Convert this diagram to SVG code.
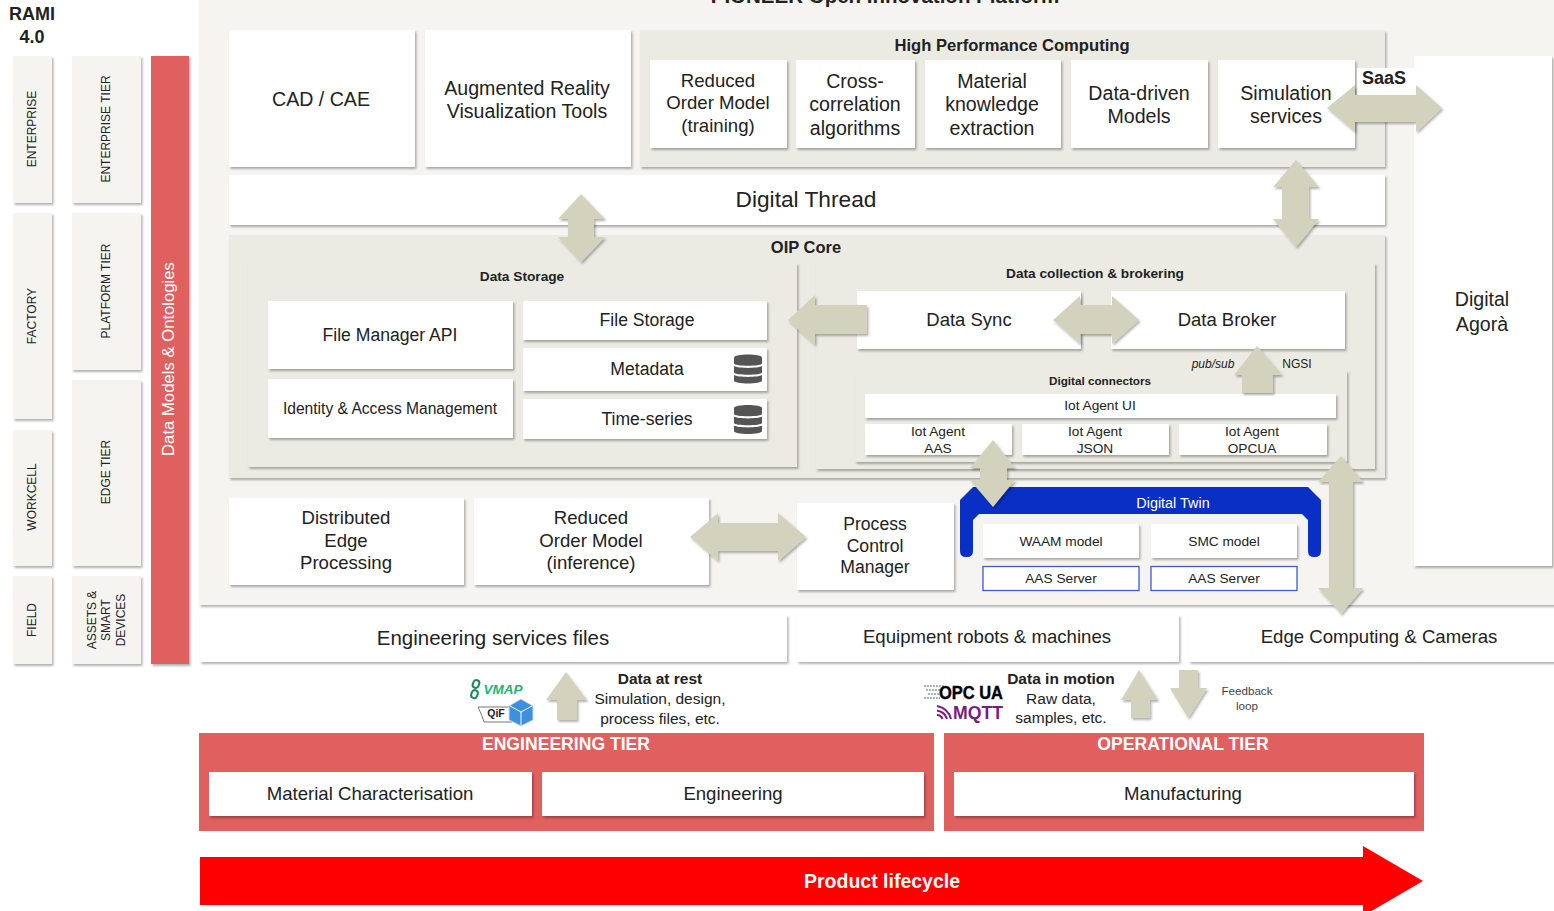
<svg xmlns="http://www.w3.org/2000/svg" width="1554" height="911" viewBox="0 0 1554 911">
<defs>
<filter id="sh" x="-10%" y="-10%" width="125%" height="125%"><feDropShadow dx="1.5" dy="2" stdDeviation="1.2" flood-color="#000" flood-opacity="0.3"/></filter>
<g id="db"><path d="M0 3 C0 -1 28 -1 28 3 V9 C28 12 0 12 0 9Z"/><path d="M0 11.5 C4 14 24 14 28 11.5 V18 C28 21 0 21 0 18Z"/><path d="M0 20.5 C4 23 24 23 28 20.5 V26 C28 30 0 30 0 26Z"/></g>
</defs>
<style>
text{font-family:"Liberation Sans",Arial,sans-serif;fill:#222;text-anchor:middle}
.w{fill:#fff;filter:url(#sh)}
.p{fill:#ebebe4;filter:url(#sh)}
.l{fill:#f5f4f0;filter:url(#sh)}
.r{fill:#e06060}
.rs{fill:#e06060;filter:url(#sh)}
.a{fill:#d2d2bd;filter:url(#sh)}
.b{font-weight:700}
.s20{font-size:19.6px}.s19{font-size:18.6px}.s18{font-size:18.6px}.s17{font-size:17.6px}.s14{font-size:13.7px}.s13{font-size:13.7px}.s12{font-size:12px}
</style>
<rect id="platform" class="l" x="199" y="-10" width="1365" height="615"/>
<g id="title"><text x="885" y="3" class="b" font-size="20.500">PIONEER Open Innovation Platform</text></g>
<g id="rami"><text x="32" y="20" class="b" font-size="18">RAMI</text><text x="32" y="43" class="b" font-size="18">4.0</text></g>
<g id="rami-levels">
<g id="l-enterprise"><rect class="l" x="13" y="56" width="39" height="147"/><text transform="translate(36 129) rotate(-90)" class="s12">ENTERPRISE</text></g>
<g id="l-factory"><rect class="l" x="13" y="213" width="39" height="206"/><text transform="translate(36 316) rotate(-90)" class="s12">FACTORY</text></g>
<g id="l-workcell"><rect class="l" x="13" y="430" width="39" height="136"/><text transform="translate(36 497) rotate(-90)" class="s12">WORKCELL</text></g>
<g id="l-field"><rect class="l" x="13" y="576" width="39" height="88"/><text transform="translate(36 620) rotate(-90)" class="s12">FIELD</text></g>
<g id="t-enterprise"><rect class="l" x="72" y="56" width="69" height="147"/><text transform="translate(110 129) rotate(-90)" class="s12">ENTERPRISE TIER</text></g>
<g id="t-platform"><rect class="l" x="72" y="213" width="69" height="157"/><text transform="translate(110 291) rotate(-90)" class="s12">PLATFORM TIER</text></g>
<g id="t-edge"><rect class="l" x="72" y="380" width="69" height="186"/><text transform="translate(110 472) rotate(-90)" class="s12">EDGE TIER</text></g>
<g id="t-assets"><rect class="l" x="72" y="576" width="69" height="88"/><text transform="translate(96 620) rotate(-90)" class="s12">ASSETS &amp;</text><text transform="translate(110 620) rotate(-90)" class="s12">SMART</text><text transform="translate(125 620) rotate(-90)" class="s12">DEVICES</text></g>
<g id="data-models"><rect class="rs" x="151" y="56" width="38" height="608"/><text transform="translate(174 359) rotate(-90)" style="fill:#fff" font-size="16.700">Data Models &amp; Ontologies</text></g>
</g>
<g id="cad"><rect class="w" x="229" y="30" width="186" height="137"/><text x="321" y="106" class="s20">CAD / CAE</text></g>
<g id="ar"><rect class="w" x="425" y="30" width="206" height="137"/><text x="527" y="95" class="s20">Augmented Reality</text><text x="527" y="118" class="s20">Visualization Tools</text></g>
<g id="hpc"><rect class="p" x="640" y="30" width="745" height="137"/><text x="1012" y="51" class="b" font-size="16.600">High Performance Computing</text></g>
<g id="rom-training"><rect class="w" x="650" y="60" width="137" height="88"/><text x="718" y="87" class="s19">Reduced</text><text x="718" y="109" class="s19">Order Model</text><text x="718" y="132" class="s19">(training)</text></g>
<g id="cross"><rect class="w" x="796" y="60" width="119" height="88"/><text x="855" y="88" class="s20">Cross-</text><text x="855" y="111" class="s20">correlation</text><text x="855" y="135" class="s20">algorithms</text></g>
<g id="material"><rect class="w" x="925" y="60" width="136" height="88"/><text x="992" y="88" class="s20">Material</text><text x="992" y="111" class="s20">knowledge</text><text x="992" y="135" class="s20">extraction</text></g>
<g id="data-driven"><rect class="w" x="1071" y="60" width="137" height="88"/><text x="1139" y="100" class="s20">Data-driven</text><text x="1139" y="123" class="s20">Models</text></g>
<g id="simulation"><rect class="w" x="1218" y="60" width="137" height="88"/><text x="1286" y="100" class="s20">Simulation</text><text x="1286" y="123" class="s20">services</text></g>
<g id="thread"><rect class="w" x="229" y="175" width="1156" height="50"/><text x="806" y="207" font-size="22.700">Digital Thread</text></g>
<g id="oip"><rect class="p" x="229" y="235" width="1156" height="243"/><text x="806" y="253" class="b" font-size="16.500">OIP Core</text></g>
<g id="storage"><rect class="p" x="248" y="263" width="549" height="204"/><text x="522" y="281" class="b s13">Data Storage</text></g>
<g id="fm"><rect class="w" x="268" y="301" width="245" height="68"/><text x="390" y="341" class="s17">File Manager API</text></g>
<g id="iam"><rect class="w" x="268" y="379" width="245" height="59"/><text x="390" y="414" font-size="15.600">Identity &amp; Access Management</text></g>
<g id="fs"><rect class="w" x="523" y="301" width="244" height="39"/><text x="647" y="326" class="s17">File Storage</text></g>
<g id="meta"><rect class="w" x="523" y="348" width="244" height="43"/><text x="647" y="375" class="s17">Metadata</text><use href="#db" x="734" y="354.500" fill="#555"/></g>
<g id="ts"><rect class="w" x="523" y="399" width="244" height="40"/><text x="647" y="425" class="s17">Time-series</text><use href="#db" x="734" y="405" fill="#555"/></g>
<g id="collect"><rect class="p" x="816" y="263" width="559" height="206"/><text x="1095" y="278" class="b s13">Data collection &amp; brokering</text></g>
<g id="sync"><rect class="w" x="857" y="291" width="224" height="58"/><text x="969" y="326" font-size="18.500">Data Sync</text></g>
<g id="broker"><rect class="w" x="1111" y="291" width="234" height="58"/><text x="1227" y="326" font-size="18.500">Data Broker</text></g>
<g id="connectors"><rect class="p" x="855" y="371" width="492" height="91"/><text x="1100" y="385" class="b" font-size="11.700">Digital connectors</text></g>
<g id="pubsub"><text x="1213" y="368" class="s12" font-style="italic">pub/sub</text><text x="1297" y="368" class="s12">NGSI</text></g>
<g id="agent-ui"><rect class="w" x="865" y="394" width="471" height="24"/><text x="1100" y="410" class="s14">Iot Agent UI</text></g>
<g id="agent-aas"><rect class="w" x="865" y="424" width="147" height="31"/><text x="938" y="436" class="s14">Iot Agent</text><text x="938" y="453" class="s14">AAS</text></g>
<g id="agent-json"><rect class="w" x="1022" y="424" width="147" height="31"/><text x="1095" y="436" class="s14">Iot Agent</text><text x="1095" y="453" class="s14">JSON</text></g>
<g id="agent-opcua"><rect class="w" x="1179" y="424" width="148" height="31"/><text x="1252" y="436" class="s14">Iot Agent</text><text x="1252" y="453" class="s14">OPCUA</text></g>
<g id="dep"><rect class="w" x="229" y="498" width="235" height="87"/><text x="346" y="524" class="s19">Distributed</text><text x="346" y="547" class="s19">Edge</text><text x="346" y="569" class="s19">Processing</text></g>
<g id="rom-inf"><rect class="w" x="474" y="498" width="235" height="87"/><text x="591" y="524" class="s19">Reduced</text><text x="591" y="547" class="s19">Order Model</text><text x="591" y="569" class="s19">(inference)</text></g>
<g id="pcm"><rect class="w" x="797" y="503" width="157" height="87"/><text x="875" y="530" class="s17">Process</text><text x="875" y="552" class="s17">Control</text><text x="875" y="573" class="s17">Manager</text></g>
<g id="twin"><path fill="#0a2fc4" d="M960 551V500L973 487H1308L1321 500V551Q1321 557 1315 557H1314Q1308 557 1308 551V520L1302 514H979L973 520V551Q973 557 967 557H966Q960 557 960 551Z"/><text x="1173" y="508" style="fill:#fff" font-size="14.400">Digital Twin</text></g>
<g id="waam"><rect class="w" x="983" y="524" width="156" height="34"/><text x="1061" y="546" class="s14">WAAM model</text></g>
<g id="smc"><rect class="w" x="1151" y="524" width="146" height="34"/><text x="1224" y="546" class="s14">SMC model</text></g>
<g id="aas1"><rect x="983" y="566.500" width="156" height="24" fill="#fff" stroke="#3b5bd9" stroke-width="1.300"/><text x="1061" y="583" class="s14">AAS Server</text></g>
<g id="aas2"><rect x="1151" y="566.500" width="146" height="24" fill="#fff" stroke="#3b5bd9" stroke-width="1.300"/><text x="1224" y="583" class="s14">AAS Server</text></g>
<g id="agora"><rect class="w" x="1414" y="56" width="138" height="510"/><text x="1482" y="306" class="s20">Digital</text><text x="1482" y="331" class="s20">Agorà</text></g>
<g id="saas"><rect x="1357" y="68" width="57" height="27" fill="#fff"/><text x="1384" y="84" class="b" font-size="18">SaaS</text></g>
<g id="eng-files"><rect class="w" x="200" y="615" width="587" height="47"/><text x="493" y="645" font-size="20.500">Engineering services files</text></g>
<g id="equipment"><rect class="w" x="797" y="615" width="382" height="47"/><text x="987" y="643" class="s18">Equipment robots &amp; machines</text></g>
<g id="edge-cam"><rect class="w" x="1189" y="615" width="375" height="47"/><text x="1379" y="643" class="s18">Edge Computing &amp; Cameras</text></g>
<g id="at-rest"><text x="660" y="684" class="b" font-size="15.500">Data at rest</text><text x="660" y="704" font-size="15.500">Simulation, design,</text><text x="660" y="724" font-size="15.500">process files, etc.</text></g>
<g id="in-motion"><text x="1061" y="684" class="b" font-size="15.500">Data in motion</text><text x="1061" y="704" font-size="15.500">Raw data,</text><text x="1061" y="723" font-size="15.500">samples, etc.</text></g>
<g id="feedback"><text x="1247" y="695" font-size="11.600" style="fill:#444">Feedback</text><text x="1247" y="710" font-size="11.600" style="fill:#444">loop</text></g>
<g id="logos">
<g fill="none" stroke="#1a8a5a" stroke-width="2"><rect x="473" y="680" width="6" height="8" rx="3" transform="rotate(20 476 684)"/><rect x="471.500" y="690" width="6" height="8" rx="3" transform="rotate(20 474 694)"/></g>
<text x="503" y="694" font-size="13.500" class="b" font-style="italic" style="fill:#22b573">VMAP</text>
<path d="M478 707H512V722H484L482 716Z" fill="#fff" stroke="#777"/>
<text x="496" y="717" font-size="10.500" class="b">QiF</text>
<path d="M521 699L533 706V720L521 726L509 720V706Z" fill="#3d8fe0" stroke="#cde" stroke-width="1"/>
<path d="M510 706L521 712L532 706M521 712V725" fill="none" stroke="#fff"/>
<g stroke="#4a6a90" stroke-width="1" stroke-dasharray="2 1"><path d="M924 686H944M926 690H944M928 694H942M924 698H940"/></g>
<text x="971" y="699" font-size="17.500" class="b" style="fill:#000;stroke:#000;stroke-width:.4" textLength="64" lengthAdjust="spacingAndGlyphs">OPC UA</text>
<g fill="none" stroke="#7b1a80" stroke-width="2"><path d="M937 706Q948 708 951 719M937 710.500Q945 712 947 719M937 715Q941 715 942.500 719"/></g>
<text x="978" y="719" font-size="18.500" class="b" style="fill:#7b1a80" textLength="50" lengthAdjust="spacingAndGlyphs">MQTT</text>
</g>
<g id="eng-tier"><rect class="r" x="199" y="733" width="735" height="98"/><text x="566" y="750" class="b" font-size="17.600" style="fill:#fff">ENGINEERING TIER</text></g>
<g id="op-tier"><rect class="r" x="944" y="733" width="480" height="98"/><text x="1183" y="750" class="b" font-size="17.600" style="fill:#fff">OPERATIONAL TIER</text></g>
<g id="mat"><rect class="w" x="209" y="772" width="323" height="44"/><text x="370" y="800" class="s18">Material Characterisation</text></g>
<g id="eng"><rect class="w" x="542" y="772" width="382" height="44"/><text x="733" y="800" class="s18">Engineering</text></g>
<g id="man"><rect class="w" x="954" y="772" width="460" height="44"/><text x="1183" y="800" class="s18">Manufacturing</text></g>
<g id="lifecycle"><path fill="#f00" d="M200 857H1363V846L1423 881L1363 916V905H200Z"/><text x="882" y="888" class="b" font-size="19.500" style="fill:#fff">Product lifecycle</text></g>
<g id="connectors-arrows">
<path class="a" d="M1327 108L1355 85V95H1416V85L1442 108L1416 132V122H1355V132Z"/>
<path class="a" d="M1296 160L1319 187H1309V219H1319L1296 247L1273 219H1282V187H1273Z"/>
<path class="a" d="M581 194L605 219H594V237H605L581 262L558 237H568V219H558Z"/>
<path class="a" d="M788 320L815 295V305H867V334H815V345Z"/>
<path class="a" d="M1053 320L1080 296V305H1112V296L1139 320L1112 344V334H1080V344Z"/>
<path class="a" d="M1257 346L1282 375H1273V393H1242V375H1234Z"/>
<path class="a" d="M993 440L1015 468H1007V480H1015L993 507L970 480H980V468H970Z"/>
<path class="a" d="M1341 456L1363 482H1353V588H1363L1341 614L1318 588H1329V482H1318Z"/>
<path class="a" d="M690 537L718 513V523H778V513L806 537L778 561V551H718V561Z"/>
<path class="a" d="M566 672L587 700H577V720H557V700H546Z"/>
<path class="a" d="M1139 670L1158 700H1150V718H1131V700H1121Z"/>
<path class="a" d="M1179 670H1198V688H1207L1188 718L1170 688H1179Z"/>
</g>
</svg>
